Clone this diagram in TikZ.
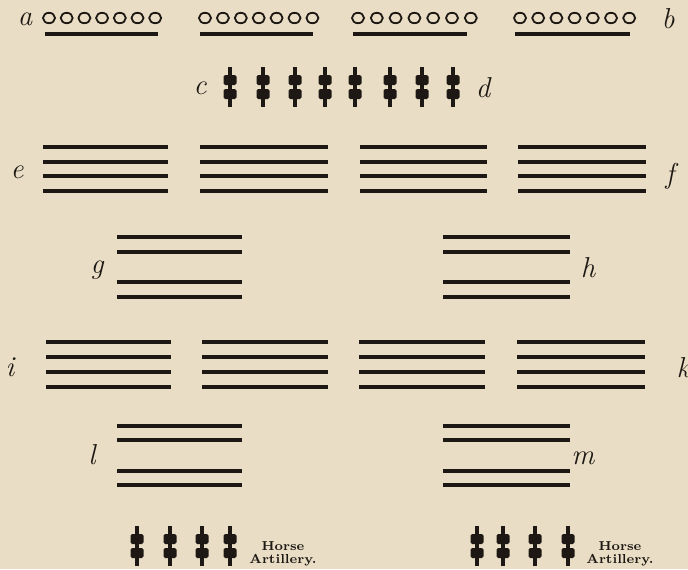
\documentclass[tikz,border=0pt]{standalone}
\definecolor{paper}{RGB}{233,222,197}
\definecolor{ink}{RGB}{30,24,20}
\tikzset{
  rank/.style={ink,line width=1.9pt},
  ring/.style={ink,line width=0.9pt},
  lbl/.style={ink,font=\itshape\Large,inner sep=0pt},
  note/.style={ink,font=\bfseries\fontsize{6.5}{6.5}\selectfont,align=center,inner sep=0pt},
  gun/.pic={
    \draw[ink,line width=2pt] (0,-20)--(0,20);
    \fill[ink,rounded corners=0.8pt] (-6.5,-12) rectangle (6.5,-2);
    \fill[ink,rounded corners=0.8pt] (-6.5,2) rectangle (6.5,12);
  }
}
\begin{document}
\begin{tikzpicture}[x=0.5pt,y=-0.5pt]
\path[use as bounding box,fill=paper] (0,0) rectangle (688,569);
% skirmishers a--b
\node[lbl] (a) at (25,19) {a}; \node[lbl] (b) at (668,19) {b};
\foreach \x/\s in {49/17.7,205/17.9,358/18.8,520/18.2}
  \foreach \k in {0,...,6} \draw[ring] (\x+\s*\k,18) ellipse (6 and 5.2);
\foreach \xa/\xb in {45/158,200/313,353/467,515/630} \draw[rank] (\xa,34)--(\xb,34);
% guns c--d
\node[lbl] (c) at (200,88) {c}; \node[lbl] (d) at (483,88) {d};
\foreach \x in {230,263,295,325,355,390,422,453} \pic at (\x,87) {gun};
% first line e--f
\node[lbl] (e) at (17,172) {e}; \node[lbl] (f) at (670,176) {f};
\foreach \xa/\xb in {43/168,200/328,360/487,518/646}
  \foreach \y in {147,162,176,191} \draw[rank] (\xa,\y)--(\xb,\y);
% supports g, h
\node[lbl] (g) at (97,270) {g}; \node[lbl] (h) at (588,268) {h};
\foreach \xa/\xb in {117/242,443/570}
  \foreach \y in {237,252,282,297} \draw[rank] (\xa,\y)--(\xb,\y);
% second line i--k
\node[lbl] (i) at (10,367) {i}; \node[lbl] (k) at (683,368) {k};
\foreach \xa/\xb in {46/171,202/328,359/485,517/645}
  \foreach \y in {342,357,372,387} \draw[rank] (\xa,\y)--(\xb,\y);
% reserves l, m
\node[lbl] (l) at (92,455) {l}; \node[lbl] (m) at (583,458) {m};
\foreach \xa/\xb in {117/242,443/570}
  \foreach \y in {426,440,471,485} \draw[rank] (\xa,\y)--(\xb,\y);
% horse artillery
\foreach \x in {137,170,202,230,477,503,535,568} \pic at (\x,546) {gun};
\node[note] (hal) at (283,554) {Horse\\Artillery.};
\node[note] (har) at (620,554) {Horse\\Artillery.};
\end{tikzpicture}
\end{document}
